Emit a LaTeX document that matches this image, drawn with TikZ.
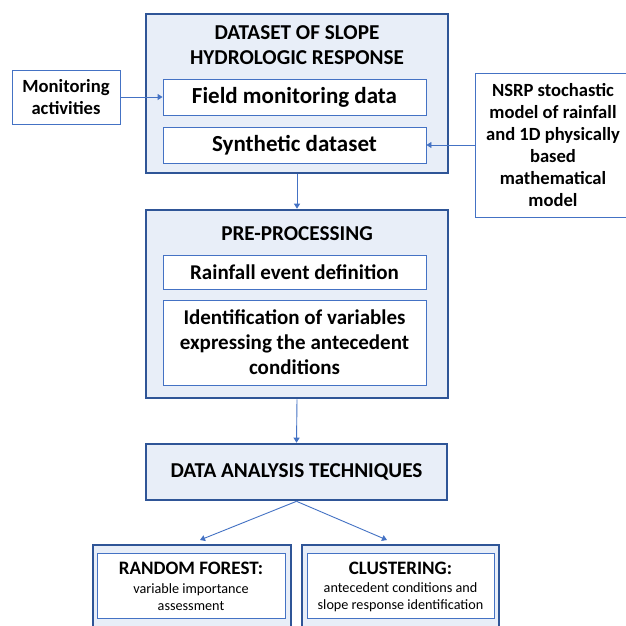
\documentclass[tikz,border=0pt]{standalone}
\usepackage{fontspec}
\setmainfont{Carlito}
\usetikzlibrary{arrows.meta,calc}
\definecolor{darkb}{HTML}{2F5597}
\definecolor{midb}{HTML}{4472C4}
\definecolor{lightb}{HTML}{E8EEF8}
\tikzset{
  outerbox/.style={draw=darkb,line width=2.6pt,fill=lightb,inner sep=0pt,anchor=center},
  innerbox/.style={draw=midb,line width=0.9pt,fill=white,inner sep=0pt,align=center,font=\bfseries\fontsize{21}{25}\selectfont},
  bigbox/.style={innerbox,font=\bfseries\fontsize{23}{27}\selectfont},
  sidebox/.style={draw=midb,line width=0.9pt,fill=white,inner sep=0pt,align=center,font=\bfseries\fontsize{18.6}{22}\selectfont},
  titletext/.style={align=center,inner sep=0pt,font=\bfseries\fontsize{21.2}{25}\selectfont},
  smalltext/.style={align=center,inner sep=0pt,font=\fontsize{14.2}{17}\selectfont},
  subtitle/.style={inner sep=0pt,font=\bfseries\fontsize{19}{22}\selectfont},
  arr/.style={draw=midb,line width=0.9pt,-{Triangle[width=6pt,length=5pt]}}
}
\begin{document}
\begin{tikzpicture}[x=1pt,y=-1pt]
\useasboundingbox (0,0) rectangle (626,625);
\fill[white] (0,0) rectangle (626,625);
% Box 1
\node[outerbox,minimum width=302pt,minimum height=159pt] (b1) at (297,93.5) {};
\node[titletext] (t1) at (297,45) {DATASET OF SLOPE\\HYDROLOGIC RESPONSE};
\node[bigbox,minimum width=263pt,minimum height=36pt] (field) at (294.5,97) {Field monitoring data};
\node[bigbox,minimum width=263pt,minimum height=36pt] (synth) at (294.5,145) {Synthetic dataset};
% side boxes
\node[sidebox,minimum width=108pt,minimum height=54pt] (mon) at (66,97) {Monitoring\\activities};
\node[sidebox,minimum width=156pt,minimum height=144pt] (nsrp) at (553,145) {NSRP stochastic\\model of rainfall\\and 1D physically\\based\\mathematical\\model};
% Box 2
\node[outerbox,minimum width=302pt,minimum height=188pt] (b2) at (297,304) {};
\node[titletext] (t2) at (297,234) {PRE-PROCESSING};
\node[innerbox,minimum width=263pt,minimum height=34pt] (rain) at (294.5,272) {Rainfall event definition};
\node[innerbox,minimum width=263pt,minimum height=85pt] (ident) at (294.5,342.5) {Identification of variables\\expressing the antecedent\\conditions};
% Box 3
\node[outerbox,minimum width=301pt,minimum height=56pt,font=\bfseries\fontsize{21.2}{25}\selectfont] (data) at (296.5,472) {DATA ANALYSIS TECHNIQUES};
% Bottom boxes
\node[outerbox,minimum width=198pt,minimum height=86pt] (rfo) at (192,588) {};
\node[draw=midb,line width=0.9pt,fill=white,minimum width=188pt,minimum height=65pt,inner sep=0pt] (rf) at (191,585.5) {};
\node[subtitle] (rft) at (191,568) {RANDOM FOREST:};
\node[smalltext] (rfs) at (191,597) {variable importance\\assessment};
\node[outerbox,minimum width=197pt,minimum height=86pt] (clo) at (400.5,588) {};
\node[draw=midb,line width=0.9pt,fill=white,minimum width=187pt,minimum height=65pt,inner sep=0pt] (cl) at (400.5,585.5) {};
\node[subtitle] (clt) at (400.5,568) {CLUSTERING:};
\node[smalltext] (cls) at (400.5,597) {antecedent conditions and\\slope response identification};
% arrows
\draw[arr] (mon.east) -- (field.west);
\draw[arr] (nsrp.west) -- (synth.east);
\draw[arr] (b1.south) -- (b2.north);
\draw[arr] (b2.south) -- (data.north);
\coordinate (rfin) at (200,540);
\coordinate (clin) at (387,540);
\draw[arr] (data.south) -- (rfin);
\draw[arr] (data.south) -- (clin);
\end{tikzpicture}
\end{document}
